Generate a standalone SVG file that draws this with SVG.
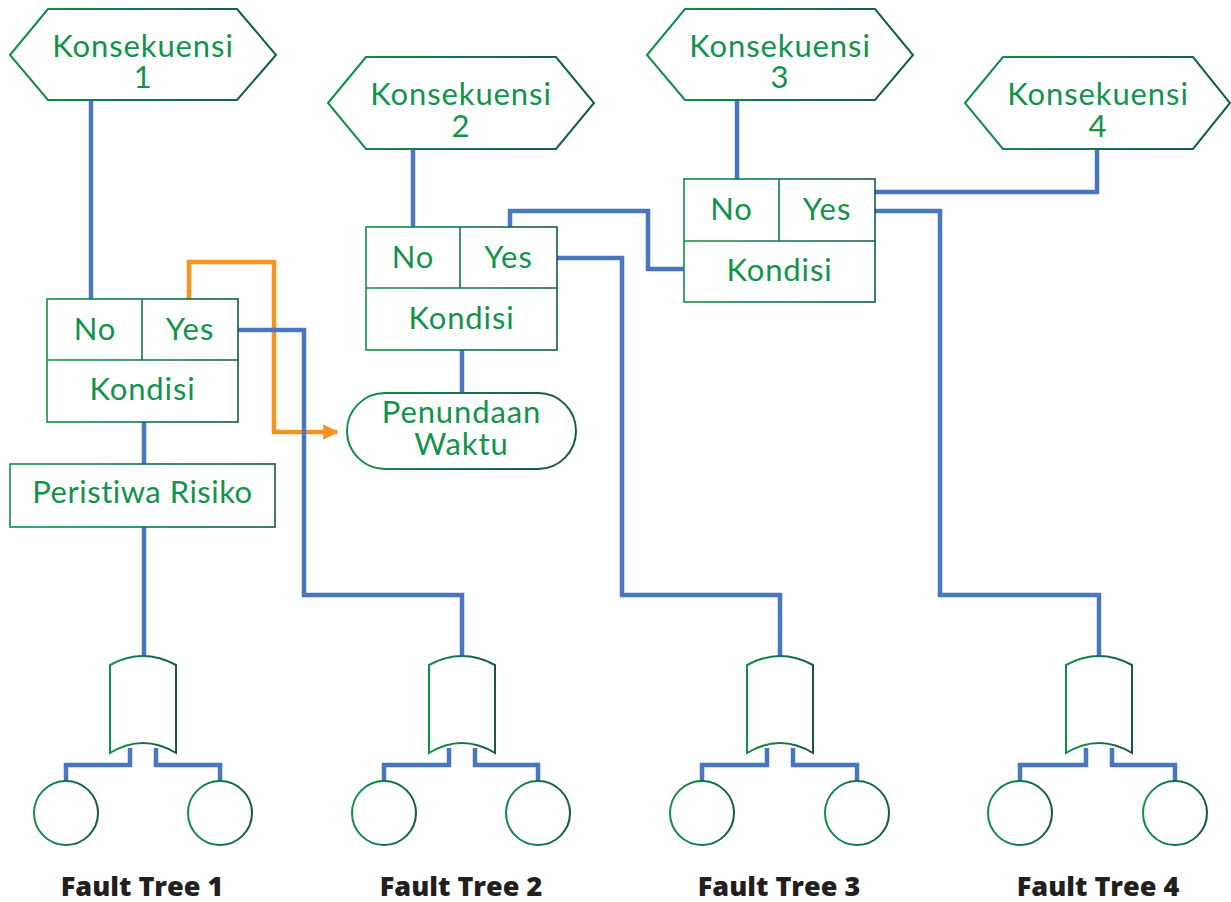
<svg xmlns="http://www.w3.org/2000/svg" width="1231" height="902" viewBox="0 0 1231 902">
<defs>
<linearGradient id="g" x1="0" y1="0" x2="1" y2="0">
<stop offset="0" stop-color="#0f9149"/>
<stop offset="1" stop-color="#14594a"/>
</linearGradient>
<marker id="arr" viewBox="0 0 10 10" refX="9" refY="5" markerWidth="3.4" markerHeight="3.4" orient="auto" markerUnits="strokeWidth">
<path d="M0,0 L10,5 L0,10 Z" fill="#f7941d"/>
</marker>
</defs>
<style>
.sh{fill:#fff;stroke:url(#g);stroke-width:2}
.bx{fill:#fff;stroke:url(#g);stroke-width:1.6}
.t{font-family:Lato,"Open Sans",sans-serif;font-size:31px;letter-spacing:0.9px;fill:#12934b;text-anchor:middle}
.ft{font-family:"Open Sans","Liberation Sans",sans-serif;font-weight:800;font-size:27px;fill:#231f20;text-anchor:middle}
.c{fill:none;stroke:#4a75bf;stroke-width:4.5}
.o{fill:none;stroke:#f7941d;stroke-width:4.5}
</style>
<g id="connectors">
<path class="o" d="M189,299 V262 H274 V432 H337" marker-end="url(#arr)"/>
<path class="c" d="M91,100 V299"/>
<path class="c" d="M238,330 H304 V595 H462 V656"/>
<path class="c" d="M144,422 V464"/>
<path class="c" d="M144,527 V656"/>
<path class="c" d="M413,150 V227"/>
<path class="c" d="M510,227 V211 H648 V269 H684"/>
<path class="c" d="M557,258 H622 V595 H780 V656"/>
<path class="c" d="M462,350 V393"/>
<path class="c" d="M737,100 V179"/>
<path class="c" d="M875,192 H1097 V149"/>
<path class="c" d="M875,211 H940 V595 H1099 V656"/>
<path class="c" d="M130,748 V765 H66 V782 M156,748 V765 H220 V782"/>
<path class="c" d="M449,748 V765 H384 V782 M475,748 V765 H538 V782"/>
<path class="c" d="M767,748 V765 H702 V782 M793,748 V765 H857 V782"/>
<path class="c" d="M1086,748 V765 H1020 V782 M1112,748 V765 H1175 V782"/>
</g>
<g id="hex1">
<polygon class="sh" points="10,55 48,9 237,9 276,55 237,100 48,100"/>
<text class="t" x="143" y="57">Konsekuensi</text>
<text class="t" x="143" y="88">1</text>
</g>
<g id="hex2">
<polygon class="sh" points="328,103 366,57 556,57 594,103 556,149 366,149"/>
<text class="t" x="461" y="105">Konsekuensi</text>
<text class="t" x="461" y="137">2</text>
</g>
<g id="hex3">
<polygon class="sh" points="647,55 685,9 875,9 913,55 875,100 685,100"/>
<text class="t" x="780" y="57">Konsekuensi</text>
<text class="t" x="780" y="88">3</text>
</g>
<g id="hex4">
<polygon class="sh" points="965,103 1003,57 1193,57 1230,103 1193,149 1003,149"/>
<text class="t" x="1098" y="105">Konsekuensi</text>
<text class="t" x="1098" y="137">4</text>
</g>
<g id="kondisi1">
<rect class="bx" x="47" y="299" width="191" height="123"/>
<path class="bx" d="M47,360 H238 M142,299 V360"/>
<text class="t" x="95" y="340">No</text>
<text class="t" x="190" y="340">Yes</text>
<text class="t" x="142.5" y="400">Kondisi</text>
</g>
<g id="peristiwa">
<rect class="bx" x="10" y="464" width="265" height="63"/>
<text class="t" x="142.5" y="503" style="letter-spacing:0.5px">Peristiwa Risiko</text>
</g>
<g id="kondisi2">
<rect class="bx" x="366" y="227" width="191" height="123"/>
<path class="bx" d="M366,288 H557 M460,227 V288"/>
<text class="t" x="413" y="268">No</text>
<text class="t" x="508.5" y="268">Yes</text>
<text class="t" x="461.5" y="329">Kondisi</text>
</g>
<g id="penundaan">
<rect class="sh" x="347" y="393" width="229" height="76" rx="38"/>
<text class="t" x="461.5" y="423">Penundaan</text>
<text class="t" x="461.5" y="455">Waktu</text>
</g>
<g id="kondisi3">
<rect class="bx" x="684" y="179" width="191" height="123"/>
<path class="bx" d="M684,241 H875 M779,179 V241"/>
<text class="t" x="731.5" y="220">No</text>
<text class="t" x="827" y="220">Yes</text>
<text class="t" x="779.5" y="281">Kondisi</text>
</g>
<g id="ft1">
<path class="sh" d="M110,665 Q143,647 176,665 L176,753 Q143,733 110,753 Z"/>
<circle class="sh" cx="66" cy="813" r="32"/>
<circle class="sh" cx="220" cy="813" r="32"/>
<text class="ft" x="142" y="896">Fault Tree 1</text>
</g>
<g id="ft2">
<path class="sh" d="M429,665 Q462,647 495,665 L495,753 Q462,733 429,753 Z"/>
<circle class="sh" cx="384" cy="813" r="32"/>
<circle class="sh" cx="538" cy="813" r="32"/>
<text class="ft" x="461" y="896">Fault Tree 2</text>
</g>
<g id="ft3">
<path class="sh" d="M747,665 Q780,647 813,665 L813,753 Q780,733 747,753 Z"/>
<circle class="sh" cx="702" cy="813" r="32"/>
<circle class="sh" cx="857" cy="813" r="32"/>
<text class="ft" x="779" y="896">Fault Tree 3</text>
</g>
<g id="ft4">
<path class="sh" d="M1066,665 Q1099,647 1132,665 L1132,753 Q1099,733 1066,753 Z"/>
<circle class="sh" cx="1020" cy="813" r="32"/>
<circle class="sh" cx="1175" cy="813" r="32"/>
<text class="ft" x="1098" y="896">Fault Tree 4</text>
</g>
</svg>
